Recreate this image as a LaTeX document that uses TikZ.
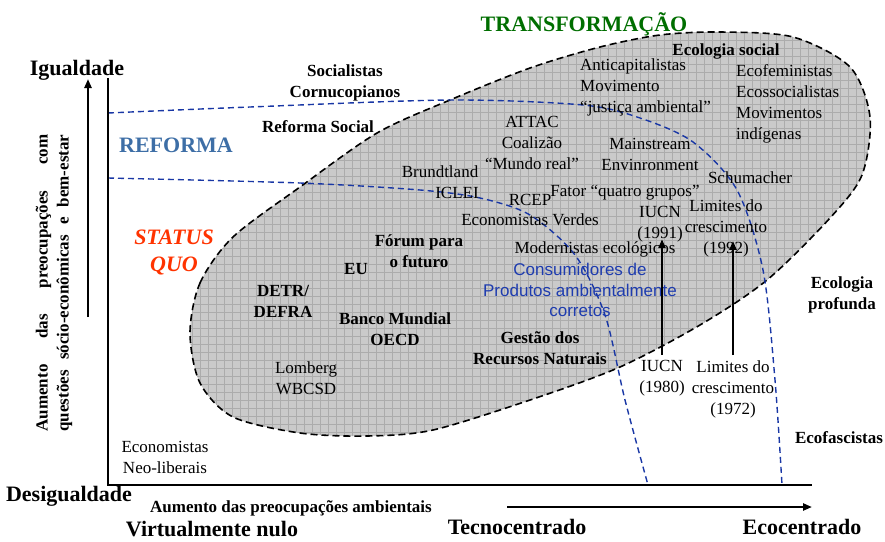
\documentclass[tikz,border=0pt]{standalone}
\usepackage{fontspec}
\setmainfont{Liberation Serif}
\newfontfamily\arialf{Liberation Sans}
\usetikzlibrary{arrows.meta,calc}
\definecolor{dblue}{RGB}{25,55,165}
\definecolor{steel}{RGB}{61,110,166}
\definecolor{sqred}{RGB}{255,51,0}
\definecolor{tgreen}{RGB}{0,110,0}
\definecolor{blobfill}{RGB}{202,202,202}
\definecolor{blobgrid}{RGB}{172,172,172}
\definecolor{consblue}{RGB}{30,60,175}
\begin{document}
\begin{tikzpicture}[x=1pt,y=-1pt,
  txt/.style={font=\fontsize{17}{21}\selectfont, inner sep=0pt, align=center},
  txtb/.style={font=\fontsize{17}{21}\selectfont\bfseries, inner sep=0pt, align=center},
  big/.style={font=\fontsize{22}{27}\selectfont\bfseries, inner sep=0pt, align=center},
  sans/.style={font=\fontsize{17}{20.5}\selectfont\arialf, text=consblue, inner sep=0pt, align=center},
  axisline/.style={line width=2.5pt},
  arr/.style={line width=2.4pt, -{Triangle[length=9pt,width=7pt]}},
  blobline/.style={line width=1.6pt, dash pattern=on 7pt off 4pt},
  bluedash/.style={dblue, line width=1.4pt, dash pattern=on 6pt off 4pt}]
\useasboundingbox (0,0) rectangle (885,541);
% ---- blob ----
\begin{scope}
\clip plot[smooth cycle] coordinates {(190,333) (200,283) (233,237) (300,187) (377,133) (450,100) (530,68) (600,47) (660,35) (720,32) (793,37) (850,67) (870,117) (862,175) (830,218) (767,280) (700,325) (620,367) (533,399) (433,430) (367,436) (300,433) (233,417) (200,383)};
\fill[blobfill] (150,0) rectangle (900,460);
\draw[blobgrid, line width=0.7pt] (150,460) grid[step=8pt] (900,0);
\end{scope}
\draw[blobline] plot[smooth cycle] coordinates {(190,333) (200,283) (233,237) (300,187) (377,133) (450,100) (530,68) (600,47) (660,35) (720,32) (793,37) (850,67) (870,117) (862,175) (830,218) (767,280) (700,325) (620,367) (533,399) (433,430) (367,436) (300,433) (233,417) (200,383)};
% ---- blue dashed boundaries ----
\draw[bluedash] plot[smooth] coordinates {(108,113) (250,107) (450,100) (583,105) (640,118) (693,142) (737,190) (763,270) (775,380) (782,485)};
\draw[bluedash] plot[smooth] coordinates {(108,178) (300,183) (420,190) (480,198) (530,215) (575,255) (605,315) (625,400) (648,485)};
% ---- axes ----
\coordinate (ytop) at (108,78);
\coordinate (orig) at (108,485);
\coordinate (xend) at (812,485);
\draw[axisline] (ytop) -- (orig) -- (xend);
\coordinate (la0) at (88,317);
\coordinate (la1) at (88,79);
\draw[arr] (la0) -- (la1);
\coordinate (ba0) at (507,507);
\coordinate (ba1) at (812,507);
\draw[arr] (ba0) -- (ba1);
% ---- big labels ----
\node[big, text=tgreen] (transf) at (584,24) {TRANSFORMAÇÃO};
\node[big] (igual) at (77,70) {Igualdade};
\node[big] (desig) at (69,496) {Desigualdade};
\node[big] (virt) at (212,529) {Virtualmente nulo};
\node[big] (tecno) at (517,527) {Tecnocentrado};
\node[big] (ecoc) at (802,527) {Ecocentrado};
\node[big, text=steel] (reforma) at (176,145) {REFORMA};
\node[big, text=sqred, font=\fontsize{22}{27}\selectfont\bfseries\itshape] (sq) at (174,252) {STATUS\\QUO};
% ---- rotated axis label ----
\node[txtb, rotate=90] (ylab) at (54,283) {\hbox to 297pt{Aumento\hfill das\hfill preocupações\hfill com}\\\hbox to 297pt{questões\hfill sócio-econômicas\hfill e\hfill bem-estar}};
\node[txtb] (xlab) at (291,508) {Aumento das preocupações ambientais};
% ---- bold labels ----
\node[txtb] (soccorn) at (345,83) {Socialistas\\Cornucopianos};
\node[txtb] (refsoc) at (318,127) {Reforma Social};
\node[txtb] (ecosoc) at (726,51) {Ecologia social};
\node[txtb] (ecoprof) at (842,295) {Ecologia\\profunda};
\node[txtb] (ecofasc) at (839,438) {Ecofascistas};
\node[txtb] (detr) at (283,301) {DETR/\\DEFRA};
\node[txtb] (eu) at (356,269) {EU};
\node[txtb] (forum) at (419,251) {Fórum para\\o futuro};
\node[txtb] (banco) at (395,329) {Banco Mundial\\OECD};
\node[txtb] (gestao) at (540,348) {Gestão dos\\Recursos Naturais};
% ---- normal labels ----
\node[txt] (econeo) at (165,457) {Economistas\\Neo-liberais};
\node[txt] (lomberg) at (306,378) {Lomberg\\WBCSD};
\node[txt] (brund) at (440,172) {Brundtland};
\node[txt] (iclei) at (457,193) {ICLEI};
\node[txt] (attac) at (532,143) {ATTAC\\Coalizão\\“Mundo real”};
\node[txt] (rcep) at (530,200) {RCEP};
\node[txt] (econv) at (530,220) {Economistas Verdes};
\node[txt] (fator) at (625,193) {Fator “quatro grupos”};
\node[txt] (modern) at (595,249) {Modernistas ecológicos};
\node[sans] (consum) at (580,290) {Consumidores de\\Produtos ambientalmente\\corretos};
\node[txt] (iucn91) at (660,224) {IUCN\\(1991)};
\node[txt] (lim92) at (726,228) {Limites do\\crescimento\\(1992)};
\node[txt] (schum) at (750,178) {Schumacher};
\node[txt] (mainst) at (650,154) {Mainstream\\Envinronment};
\node[txt, align=left, anchor=west] (anticap) at (580,87) {Anticapitalistas\\Movimento\\“justiça ambiental”};
\node[txt, align=left, anchor=west] (ecofem) at (736,104) {Ecofeministas\\Ecossocialistas\\Movimentos\\indígenas};
\node[txt] (iucn80) at (662,378) {IUCN\\(1980)};
\node[txt] (lim72) at (733,389) {Limites do\\crescimento\\(1972)};
% ---- arrows between nodes ----
\draw[arr] ($(iucn80.north)+(0,-5)$) -- ($(iucn91.south)+(2,-3)$);
\draw[arr] ($(lim72.north)+(0,-5)$) -- ($(lim92.south -| lim72.north)+(0,-16)$);
\end{tikzpicture}
\end{document}
